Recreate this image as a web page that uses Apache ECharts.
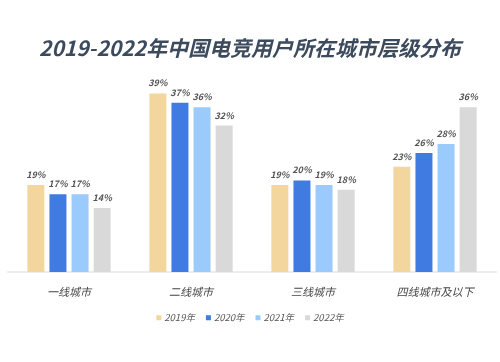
<!DOCTYPE html>
<html><head><meta charset="utf-8">
<script src="https://cdn.jsdelivr.net/npm/echarts@6/dist/echarts.min.js"></script>
<style>html,body{margin:0;padding:0;background:#fff;}#c{width:500px;height:362px;}</style>
</head><body><div id="c"></div>
<script>
const categories = ['一线城市', '二线城市', '三线城市', '四线城市及以下'];
const seriesNames = ['2019年', '2020年', '2021年', '2022年'];
const v2019 = [19, 39, 19, 23];
const v2020 = [17, 37, 20, 26];
const v2021 = [17, 36, 19, 28];
const v2022 = [14, 32, 18, 36];
const colors = ['#f3d69e', '#3f7be0', '#9bcafc', '#d9d9d9'];
const values = [v2019, v2020, v2021, v2022];
const font = '"Noto Sans CJK SC", "Noto Sans", sans-serif';
const chart = echarts.init(document.getElementById('c'));
chart.setOption({
  animation: false,
  backgroundColor: '#fff',
  title: {
    text: '2019-2022年中国电竞用户所在城市层级分布',
    left: 'center', top: 33,
    textStyle: { fontFamily: font, fontSize: 21, fontWeight: 'bold', fontStyle: 'italic', color: '#3b4a5d' }
  },
  legend: {
    data: seriesNames, top: 308, left: 'center',
    itemWidth: 5, itemHeight: 5, itemGap: 11, icon: 'rect',
    textStyle: { fontFamily: font, fontSize: 9.5, fontStyle: 'italic', color: '#555', padding: [0, 0, 0, -2] }
  },
  grid: { left: 8, right: 4, top: 89, bottom: 90 },
  xAxis: {
    type: 'category', data: categories,
    axisLine: { lineStyle: { color: '#eeeeee', width: 2 } },
    axisTick: { show: false },
    axisLabel: { margin: 14, fontFamily: font, fontSize: 11, fontStyle: 'italic', color: '#444' }
  },
  yAxis: { type: 'value', min: 0, max: 40, show: false, splitLine: { show: false } },
  series: values.map((d, i) => ({
    name: seriesNames[i], type: 'bar', data: d,
    barWidth: 17, barGap: '30%',
    itemStyle: { color: colors[i] },
    label: { show: true, position: 'top', distance: 6, formatter: '{c}%',
      fontFamily: font, fontSize: 9, fontStyle: 'italic', fontWeight: 'bold', color: '#555' }
  }))
});
</script></body></html>
